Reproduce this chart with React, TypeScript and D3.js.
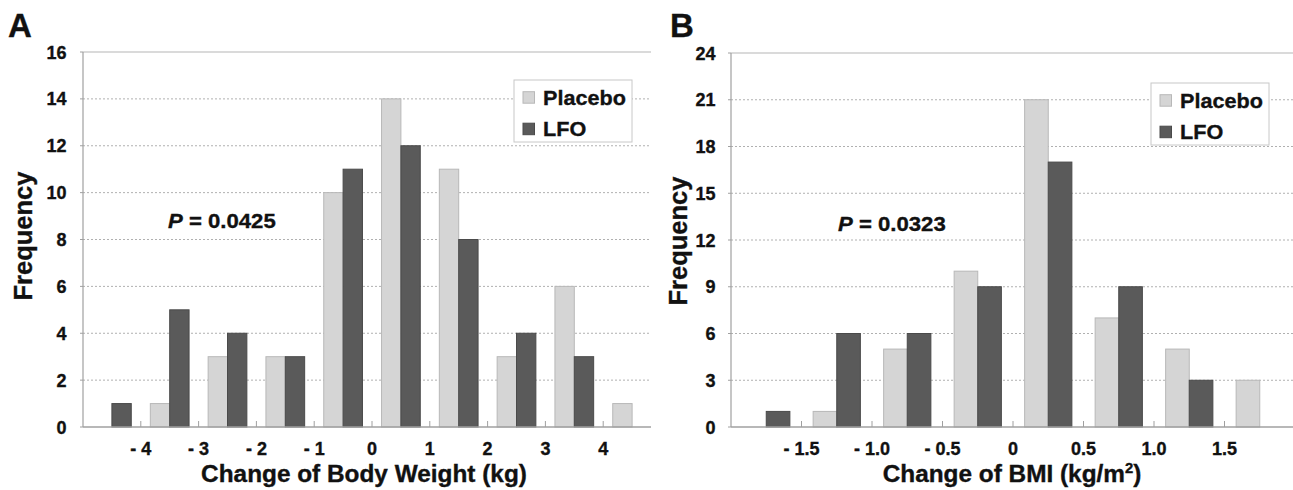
import React from "react";
import * as d3 from "d3";

// ---------- Data ----------
const binsA = ["<-4", "-4~-3", "-3~-2", "-2~-1", "-1~0", "0~1", "1~2", "2~3", "3~4", ">4"];
const placeboA = [0, 1, 3, 3, 10, 14, 11, 3, 6, 1];
const lfoA = [1, 5, 4, 3, 11, 12, 8, 4, 3, 0];
const tickLabelsA = ["- 4", "- 3", "- 2", "- 1", "0", "1", "2", "3", "4"];
const yTicksA = [0, 2, 4, 6, 8, 10, 12, 14, 16];

const binsB = ["<-1.5", "-1.5~-1.0", "-1.0~-0.5", "-0.5~0", "0~0.5", "0.5~1.0", "1.0~1.5", ">1.5"];
const placeboB = [0, 1, 5, 10, 21, 7, 5, 3];
const lfoB = [1, 6, 6, 9, 17, 9, 3, 0];
const tickLabelsB = ["- 1.5", "- 1.0", "- 0.5", "0", "0.5", "1.0", "1.5"];
const yTicksB = [0, 3, 6, 9, 12, 15, 18, 21, 24];

const seriesNames = ["Placebo", "LFO"];

// ---------- Styles ----------
const FONT = "'Liberation Sans', Arial, Helvetica, sans-serif";
const LIGHT = "#d5d5d5";
const LIGHT_STROKE = "#b8b8b8";
const DARK = "#5a5a5a";
const DARK_STROKE = "#4a4a4a";
const TXT = "#111";

type TProps = {
  x: number; y: number; size: number; sx?: number; rotate?: number;
  anchor?: "start" | "middle" | "end"; italic?: boolean; children: React.ReactNode;
};
function T({ x, y, size, sx = 1.0, rotate = 0, anchor = "start", italic, children }: TProps) {
  return (
    <text
      transform={`translate(${x},${y}) rotate(${rotate}) scale(${sx},1)`}
      fontFamily={FONT}
      fontWeight="bold"
      fontStyle={italic ? "italic" : "normal"}
      fontSize={size}
      textAnchor={anchor}
      fill={TXT}
      stroke={TXT}
      strokeWidth={0.35}
    >
      {children}
    </text>
  );
}

type PanelProps = {
  letter: string;
  letterX: number;
  bins: string[];
  placebo: number[];
  lfo: number[];
  tickLabels: string[];
  yTicks: number[];
  left: number;
  bandW: number;
  clipRight: number;
  top: number;
  bottom: number;
  yLabelRight: number;
  freqX: number;
  freqY: number;
  pX: number;
  pY: number;
  pText: string;
  legendX: number;
  legendY: number;
  titleX: number;
  title: React.ReactNode;
};

function Panel(p: PanelProps) {
  const x = d3
    .scaleBand<string>()
    .domain(p.bins)
    .range([p.left, p.left + p.bandW * p.bins.length])
    .paddingInner(0)
    .paddingOuter(0);
  const yMax = p.yTicks[p.yTicks.length - 1];
  const y = d3.scaleLinear().domain([0, yMax]).range([p.bottom, p.top]);
  const bw = x.bandwidth();
  const barW = bw * 0.335;

  return (
    <g>
      <T x={p.letterX} y={37} size={33} sx={1.0}>{p.letter}</T>
      {/* grid lines */}
      {p.yTicks.map((t) =>
        t === 0 || t === yMax ? null : (
          <line key={"g" + t} x1={p.left} x2={p.clipRight} y1={y(t)} y2={y(t)}
            stroke="#b0b0b0" strokeWidth={1} strokeDasharray="2,2" />
        )
      )}
      {/* top border */}
      <line x1={p.left} x2={p.clipRight} y1={y(yMax)} y2={y(yMax)} stroke="#b5b5b5" strokeWidth={1} />
      {/* bars */}
      {p.bins.map((b, i) => {
        const c = (x(b) as number) + bw / 2;
        return (
          <g key={b}>
            {p.placebo[i] > 0 && (
              <rect x={c - barW} y={y(p.placebo[i])} width={barW} height={y(0) - y(p.placebo[i])}
                fill={LIGHT} stroke={LIGHT_STROKE} strokeWidth={1} />
            )}
            {p.lfo[i] > 0 && (
              <rect x={c} y={y(p.lfo[i])} width={barW} height={y(0) - y(p.lfo[i])}
                fill={DARK} stroke={DARK_STROKE} strokeWidth={1} />
            )}
          </g>
        );
      })}
      {/* y axis */}
      <line x1={p.left} x2={p.left} y1={y(yMax)} y2={y(0)} stroke="#a0a0a0" strokeWidth={1.2} />
      {p.yTicks.map((t) => (
        <g key={"yt" + t}>
          <line x1={p.left - 3} x2={p.left} y1={y(t)} y2={y(t)} stroke="#a0a0a0" />
          <T x={p.yLabelRight} y={y(t) + 6.5} size={18} sx={1.0} anchor="end">{t}</T>
        </g>
      ))}
      {/* x axis */}
      <line x1={p.left} x2={p.clipRight} y1={y(0)} y2={y(0)} stroke="#a0a0a0" strokeWidth={1.5} />
      {p.tickLabels.map((lab, i) => {
        const tx = x(p.bins[i + 1]) as number;
        return (
          <g key={"xt" + i}>
            <line x1={tx} x2={tx} y1={y(0) - 6} y2={y(0)} stroke="#a0a0a0" />
            <T x={tx} y={455} size={18} sx={1.0} anchor="middle">{lab}</T>
          </g>
        );
      })}
      {/* axis titles */}
      <T x={p.titleX} y={482} size={23} sx={1.06} anchor="middle">{p.title}</T>
      <T x={p.freqX} y={p.freqY} size={25} sx={1.02} rotate={-90} anchor="middle">Frequency</T>
      {/* P value */}
      <text
        transform={`translate(${p.pX},${p.pY}) scale(1.08,1)`}
        fontFamily={FONT} fontWeight="bold" fontSize={20.5} fill={TXT} stroke={TXT} strokeWidth={0.35}
      >
        <tspan fontStyle="italic">P</tspan>
        <tspan> = {p.pText}</tspan>
      </text>
      {/* legend */}
      <g transform={`translate(${p.legendX},${p.legendY})`}>
        <rect x={0} y={0} width={118} height={62} fill="#fff" stroke="#c8c8c8" strokeWidth={1} />
        {seriesNames.map((s, i) => (
          <g key={s}>
            <rect x={9} y={11.7 + i * 31.5} width={11.5} height={11.5}
              fill={i === 0 ? LIGHT : DARK} stroke={i === 0 ? LIGHT_STROKE : DARK_STROKE} />
            <T x={29} y={24.5 + i * 31} size={21} sx={1.03}>{s}</T>
          </g>
        ))}
      </g>
    </g>
  );
}

export default function App() {
  return (
    <svg width={1293} height={490} style={{ position: "absolute", left: 0, top: 0, background: "#fff" }}>
      <rect x={0} y={0} width={1293} height={490} fill="#fff" />
      <Panel
        letter="A" letterX={8}
        bins={binsA} placebo={placeboA} lfo={lfoA} tickLabels={tickLabelsA} yTicks={yTicksA}
        left={83} bandW={57.8} clipRight={651} top={52} bottom={427}
        yLabelRight={66.5} freqX={32} freqY={236}
        pX={168} pY={228} pText="0.0425"
        legendX={514} legendY={80}
        titleX={364}
        title="Change of Body Weight (kg)"
      />
      <Panel
        letter="B" letterX={670}
        bins={binsB} placebo={placeboB} lfo={lfoB} tickLabels={tickLabelsB} yTicks={yTicksB}
        left={731} bandW={70.5} clipRight={1293} top={53} bottom={427}
        yLabelRight={715.6} freqX={687} freqY={241}
        pX={838} pY={231} pText="0.0323"
        legendX={1151} legendY={83}
        titleX={1012}
        title={
          <>
            <tspan>Change of BMI (kg/m</tspan>
            <tspan dy={-9} fontSize={14}>2</tspan>
            <tspan dy={9}>)</tspan>
          </>
        }
      />
    </svg>
  );
}
